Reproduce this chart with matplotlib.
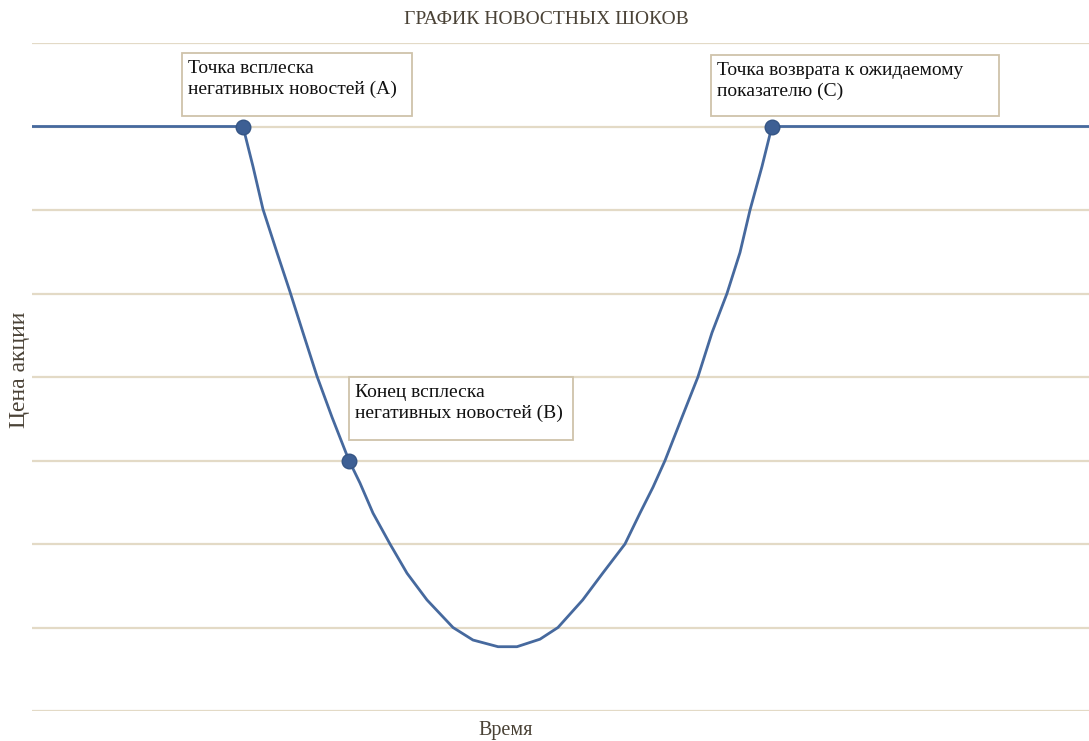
import numpy as np
import matplotlib.pyplot as plt
from matplotlib.patches import Rectangle

plt.rcParams['font.family'] = ['Liberation Serif', 'DejaVu Serif']

# price path (time 0..100, price on a 0..8 grid)
time = [0, 19.96, 20.91, 21.85, 23.18, 24.41, 25.64, 26.96, 28.38, 29.99,
        31.03, 32.26, 33.87, 35.48, 37.37, 39.83, 41.72, 44.09, 45.88, 48.06,
        49.76, 52.1, 53.99, 56.1, 57.52, 58.75, 59.89, 61.5, 63.0, 64.33,
        65.75, 66.98, 67.93, 69.06, 70.0, 100]
price = [7, 7, 6.52, 6.01, 5.49, 5.02, 4.53, 4.01, 3.52, 3.0,
         2.73, 2.37, 2.0, 1.65, 1.33, 1.0, 0.85, 0.77, 0.77, 0.86,
         1.0, 1.33, 1.65, 2.0, 2.37, 2.68, 3.0, 3.52, 4.0, 4.53,
         5.0, 5.49, 6.0, 6.52, 7, 7]

key_time = [19.96, 29.99, 70.0]
key_price = [7, 3, 7]
key_labels = ["Точка всплеска\nнегативных новостей (A)",
              "Конец всплеска\nнегативных новостей (B)",
              "Точка возврата к ожидаемому\nпоказателю (C)"]

title = "ГРАФИК НОВОСТНЫХ ШОКОВ"
xlabel = "Время"
ylabel = "Цена акции"

W, H = 1089, 741
fig = plt.figure(figsize=(W / 100, H / 100), dpi=100)
ax = fig.add_axes([32 / W, 30 / H, 1 - 32 / W, (711 - 43) / H])

line_col = '#46699e'
grid_col = '#e3dac6'
text_col = '#4a4236'

for g in range(0, 9):
    ax.axhline(g, color=grid_col, lw=1.6, zorder=0)

ax.plot(time, price, color=line_col, lw=2.0, zorder=2,
        solid_joinstyle='round', solid_capstyle='round')
ax.plot(key_time, key_price, 'o', ms=10.5, color='#3d5f94', mec='#355585',
        zorder=3)

ax.set_xlim(0, 100)
ax.set_ylim(0, 8)
ax.axis('off')

# annotation boxes (pixel boxes)
boxes = [(182, 53, 412, 116), (349, 377, 573, 440), (711, 55, 999, 116)]
for (x0, y0, x1, y1), lab in zip(boxes, key_labels):
    fig.patches.append(Rectangle((x0 / W, 1 - y1 / H), (x1 - x0) / W,
                                 (y1 - y0) / H, transform=fig.transFigure,
                                 facecolor='white', edgecolor='#cfc3aa',
                                 lw=1.3, zorder=5))
    fig.text((x0 + 6) / W, 1 - (y0 + 7) / H, lab, ha='left', va='top',
             fontsize=14, color='#111111', linespacing=1.25, zorder=6)

fig.text(546 / W, 1 - 20 / H, title, ha='center', va='center',
         fontsize=14, color=text_col)
fig.text(506 / W, 1 - 731 / H, xlabel, ha='center', va='center',
         fontsize=14.5, color=text_col)
fig.text(20 / W, 1 - 370 / H, ylabel, ha='center', va='center',
         rotation=90, fontsize=17, color=text_col)

fig.savefig('out.png', dpi=100)
